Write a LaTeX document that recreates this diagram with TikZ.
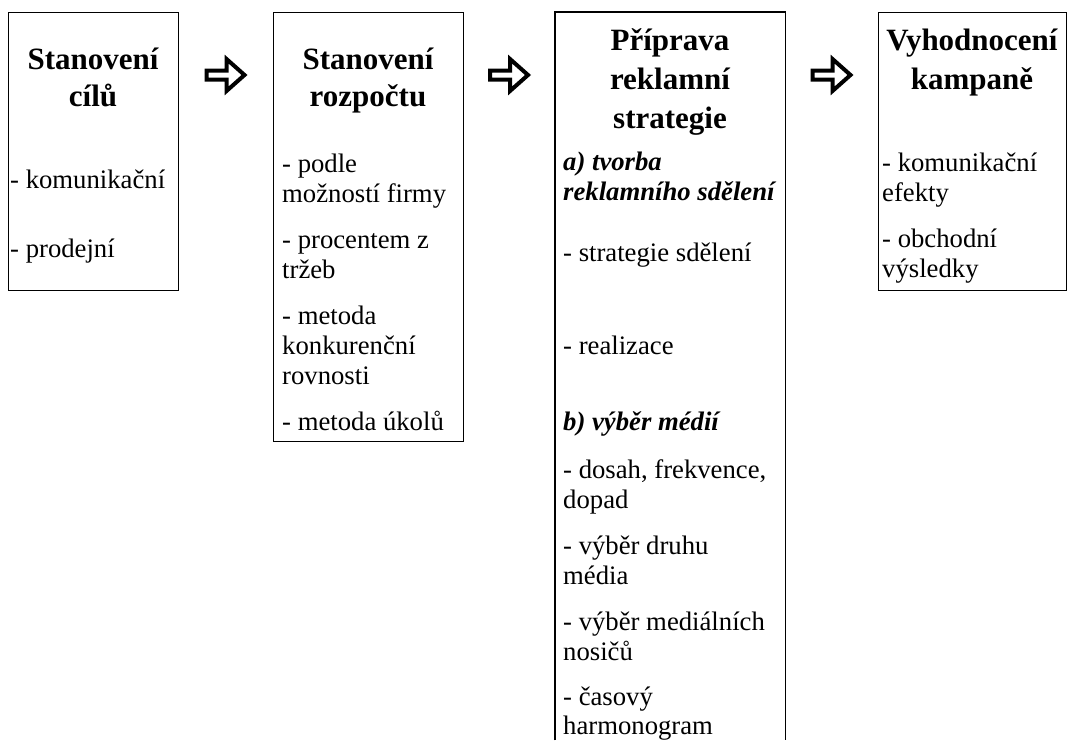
\documentclass[tikz,border=0pt]{standalone}
\usepackage{fontspec}
\setmainfont{Liberation Serif}
\usetikzlibrary{calc}
\tikzset{
  boxline/.style={draw=black, line width=1.2pt},
  box/.style={boxline, rectangle, inner sep=0pt, anchor=north west},
  ttl/.style={font=\bfseries\fontsize{31}{36}\selectfont, inner sep=0pt, anchor=base},
  txt/.style={font=\fontsize{26.7}{30}\selectfont, inner sep=0pt, anchor=base west},
  itxt/.style={txt, font=\bfseries\itshape\fontsize{26.7}{30}\selectfont},
  fatarrow/.style={draw=black, fill=white, line width=4pt, miter limit=10}
}
\begin{document}
\begin{tikzpicture}[x=1pt, y=-1pt]
\useasboundingbox (0,0) rectangle (1074,740);
% boxes
\node[box, minimum width=170pt, minimum height=278pt] (b1) at (8,12) {};
\node[box, minimum width=190pt, minimum height=429pt] (b2) at (273,12) {};
\node[rectangle, inner sep=0pt, anchor=north west, minimum width=230pt, minimum height=728pt] (b3) at (555,12) {};
\draw[boxline] (b3.south west) -- (b3.north west) -- (b3.north east) -- (b3.south east);
\node[box, minimum width=188pt, minimum height=278pt] (b4) at (878,12) {};
% arrows
\foreach \n/\cx in {1/225.5, 2/509, 3/831.5}{
  \coordinate (a\n) at (\cx,75);
  \draw[fatarrow] ($(a\n)+(-19,-4.5)$) -- ($(a\n)+(1,-4.5)$) -- ($(a\n)+(1,-16)$)
     -- ($(a\n)+(19,0)$) -- ($(a\n)+(1,16)$) -- ($(a\n)+(1,4.5)$) -- ($(a\n)+(-19,4.5)$) -- cycle;
}
% box 1
\node[ttl] (t1a) at (93,69) {Stanovení};
\node[ttl] (t1b) at (93,106) {cílů};
\node[txt] (l1a) at (10,188) {- komunikační};
\node[txt] (l1b) at (10,257) {- prodejní};
% box 2
\node[ttl] (t2a) at (368,69) {Stanovení};
\node[ttl] (t2b) at (368,106) {rozpočtu};
\node[txt] (l2a) at (282,172) {- podle};
\node[txt] (l2b) at (282,202) {možností firmy};
\node[txt] (l2c) at (282,248) {- procentem z};
\node[txt] (l2d) at (282,278) {tržeb};
\node[txt] (l2e) at (282,324) {- metoda};
\node[txt] (l2f) at (282,354) {konkurenční};
\node[txt] (l2g) at (282,384) {rovnosti};
\node[txt] (l2h) at (282,430) {- metoda úkolů};
% box 3
\node[ttl] (t3a) at (670,50) {Příprava};
\node[ttl] (t3b) at (670,89) {reklamní};
\node[ttl] (t3c) at (670,128) {strategie};
\node[itxt] (l3a) at (563,170) {a) tvorba};
\node[itxt] (l3b) at (563,200) {reklamního sdělení};
\node[txt] (l3c) at (563,261) {- strategie sdělení};
\node[txt] (l3d) at (563,354) {- realizace};
\node[itxt] (l3e) at (563,430) {b) výběr médií};
\node[txt] (l3f) at (563,478) {- dosah, frekvence,};
\node[txt] (l3g) at (563,508) {dopad};
\node[txt] (l3h) at (563,554) {- výběr druhu};
\node[txt] (l3i) at (563,584) {média};
\node[txt] (l3j) at (563,630) {- výběr mediálních};
\node[txt] (l3k) at (563,660) {nosičů};
\node[txt] (l3l) at (563,705) {- časový};
\node[txt] (l3m) at (563,734) {harmonogram};
% box 4
\node[ttl] (t4a) at (972,50) {Vyhodnocení};
\node[ttl] (t4b) at (972,89) {kampaně};
\node[txt] (l4a) at (882,171) {- komunikační};
\node[txt] (l4b) at (882,201) {efekty};
\node[txt] (l4c) at (882,247) {- obchodní};
\node[txt] (l4d) at (882,277) {výsledky};
\end{tikzpicture}
\end{document}
